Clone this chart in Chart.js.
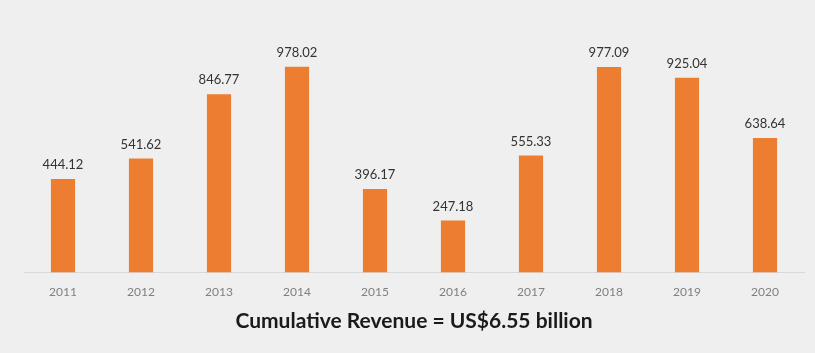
<!DOCTYPE html>
<html>
<head>
<meta charset="utf-8">
<script src="https://cdn.jsdelivr.net/npm/chart.js@4/dist/chart.umd.min.js"></script>
<style>
  html, body { margin: 0; padding: 0; background: #efefef; }
  #wrap { width: 815px; height: 353px; position: relative; }
</style>
</head>
<body>
<div id="wrap"><canvas id="c" width="815" height="353"></canvas></div>
<script>
// Annual revenue figures (US$ million)
const years = ['2011', '2012', '2013', '2014', '2015', '2016', '2017', '2018', '2019', '2020'];
const revenue = [444.12, 541.62, 846.77, 978.02, 396.17, 247.18, 555.33, 977.09, 925.04, 638.64];
const titleText = 'Cumulative Revenue = US$6.55 billion';

// Writes each bar's value just above it
const valueLabels = {
  id: 'valueLabels',
  afterDatasetsDraw(chart) {
    const ctx = chart.ctx;
    const meta = chart.getDatasetMeta(0);
    ctx.save();
    ctx.font = '13px Lato, "Open Sans", sans-serif';
    ctx.fillStyle = '#333333';
    ctx.textAlign = 'center';
    ctx.textBaseline = 'middle';
    meta.data.forEach((bar, i) => {
      ctx.fillText(revenue[i].toFixed(2), bar.x, bar.y - 14);
    });
    ctx.restore();
  }
};

new Chart(document.getElementById('c'), {
  type: 'bar',
  data: {
    labels: years,
    datasets: [{
      data: revenue,
      backgroundColor: '#ed7d31',
      barPercentage: 0.31,
      categoryPercentage: 1.0
    }]
  },
  options: {
    responsive: false,
    animation: false,
    layout: { padding: { top: 20, left: 24, right: 11, bottom: 19 } },
    plugins: {
      legend: { display: false },
      tooltip: { enabled: false },
      title: {
        display: true,
        position: 'bottom',
        text: titleText,
        color: '#1a1a1a',
        font: { family: 'Lato, "Open Sans", sans-serif', size: 21, weight: 'bold' },
        padding: { top: -4, bottom: 0 }
      }
    },
    scales: {
      x: {
        grid: { display: false, drawTicks: false },
        border: { display: true, color: '#d9d9d9', width: 1 },
        ticks: {
          color: '#7f7f7f',
          font: { family: 'Lato, "Open Sans", sans-serif', size: 12 },
          padding: 13
        }
      },
      y: {
        display: false,
        min: 0,
        max: 1200
      }
    }
  },
  plugins: [valueLabels]
});
</script>
</body>
</html>
